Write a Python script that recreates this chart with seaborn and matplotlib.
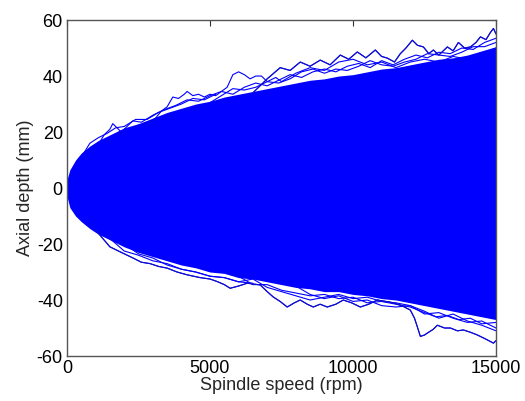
import matplotlib
matplotlib.use("Agg")
import matplotlib.pyplot as plt
import pandas as pd
import seaborn as sns

# Axis annotation
x_label = "Spindle speed (rpm)"
y_label = "Axial depth (mm)"
x_ticks = [0, 5000, 10000, 15000]
y_ticks = [-60, -40, -20, 0, 20, 40, 60]

# Dense band covered by the bulk of the simulated paths
core_speed = [0, 100, 300, 500, 800, 1100, 1500, 2000, 2500, 3000, 3500, 4000,
              4500, 5000, 5500, 6000, 6500, 7000, 7500, 8000, 8500, 9000, 9500,
              10000, 10500, 11000, 11500, 12000, 12500, 13000, 13500, 14000,
              14500, 15000]
core_upper = [3, 6.5, 10, 12.5, 15, 17, 19, 21.5, 23, 25, 27, 28.5, 30, 31,
              32.5, 33.5, 34.5, 35.5, 36.5, 37.5, 38.5, 39, 40, 40.5, 41.5, 42.5,
              43, 44, 45, 46, 46.5, 47.5, 49, 50.5]
core_lower = [-3, -7, -10, -12, -14.5, -16.5, -18.5, -21, -23, -24.5, -26, -27.5,
              -28.5, -30, -30.5, -32, -32.5, -33.5, -34.5, -35.5, -36, -37, -37,
              -38, -38.5, -39.5, -40, -41, -42, -43, -44, -45, -46, -47]

# Individual stability-boundary paths that stray outside the dense band
path_u1_speed = [1000, 1300, 1500, 1600, 1750, 1900, 2200, 2500, 2800, 3100, 3300,
                 3500, 3700, 3900, 4100, 4200, 4400, 4600, 4800, 5000, 5200, 5400,
                 5600, 5800, 6000, 6200, 6400, 6600, 6800, 7000, 7300, 7500, 8000,
                 8500, 9000, 9500, 10000, 10500, 11000, 11500, 12000, 12500, 13000,
                 13500, 14000, 14500, 15000]
path_u1_depth = [14, 19, 21, 23, 21.5, 20, 21, 22.5, 23, 25, 27.5, 29, 32.5, 32,
                 33.5, 34.5, 33, 33.5, 32.5, 33.5, 33, 34.5, 36, 40.5, 41.5, 40.5,
                 39, 40, 40, 38, 39.5, 38, 41, 43, 42, 45, 46, 44, 45, 43, 45, 46,
                 45, 47, 46, 48, 50]

path_u2_speed = [6500, 7000, 7455, 7800, 8155, 8500, 8855, 9200, 9555, 9850, 10150,
                 10450, 10780, 11000, 11200, 11450, 11655, 11850, 12075, 12250,
                 12460, 12650, 12810, 13000, 13300, 13500, 13685, 13900, 14105,
                 14300, 14455, 14650, 14800, 14910, 15000]
path_u2_depth = [34, 39, 43, 42, 45, 43.5, 45.7, 44, 47.5, 46, 48.6, 46.5, 49.3,
                 47, 46.4, 45, 48, 50, 52.8, 51, 50.4, 48, 49.3, 47.5, 50.4, 49,
                 52, 50, 50.4, 52, 54, 53, 55.5, 57, 55]

path_u3_speed = [2000, 2300, 2600, 3000, 3400, 3800, 4200, 4600, 5000, 5400, 5800,
                 6200, 6600, 7000, 7400, 7800, 8200, 8600, 9000, 9400, 9800, 10200,
                 10600, 11000, 11400, 11800, 12200, 12600, 13000, 13400, 13800,
                 14200, 14600, 15000]
path_u3_depth = [21, 24, 23.5, 26, 28, 29.5, 31.5, 31, 33, 34.5, 33.5, 36, 37.5,
                 36.5, 38.5, 40.5, 39.5, 41.5, 42.5, 41.5, 43.5, 44.5, 43, 45.5,
                 44, 46, 47.5, 46.5, 48.5, 48, 50, 49.5, 52, 53.5]

path_u4_speed = [5000, 5400, 5800, 6200, 6600, 7000, 7400, 7800, 8200, 8600, 9000,
                 9400, 9800, 10200, 10600, 11000, 11400, 11800, 12200, 12600, 13000,
                 13400, 13800, 14200, 14600, 15000]
path_u4_depth = [30.5, 33, 35.5, 35, 36, 38, 37.5, 39, 41.5, 42.5, 41, 42.5, 42,
                 43.5, 45.5, 44, 43.5, 45, 46, 48, 47.5, 47, 48.5, 50.5, 50.5, 52]

path_u5_speed = [500, 800, 1100, 1400, 1700, 2000, 2400, 2800, 3200, 3600, 4000,
                 4400, 4800, 5200]
path_u5_depth = [11, 16, 18, 19.5, 21.5, 22, 24.5, 24.5, 27, 28.5, 30, 32, 31.5,
                 33.5]

path_l1_speed = [1000, 1500, 1900, 2310, 2600, 2905, 3200, 3500, 3850, 4200, 4655,
                 5000, 5250, 5500, 5705, 6000, 6300, 6755, 7000, 7210, 7450, 7700,
                 7950, 8155, 8400, 8610, 8850, 9100, 9400, 9660, 9950, 10255, 10550,
                 10850, 11150, 11410, 11700, 12005, 12150, 12250, 12355, 12500,
                 12600, 12800, 12950, 13200, 13405, 13650, 13860, 14100, 14350,
                 14650, 14910, 15000]
path_l1_depth = [-15, -21, -23, -25, -26.5, -27, -28, -28.6, -30, -31, -32, -32.5,
                 -33.4, -34.5, -35.8, -35, -34, -34.6, -37, -38.9, -40.5, -42.5,
                 -41, -40, -41.5, -42.5, -41.5, -42.5, -41.5, -40, -41, -42.5,
                 -41.5, -40, -40.5, -41, -42, -43.6, -46.5, -49.6, -53, -52.5,
                 -51.8, -50.5, -49, -50, -50, -51, -50.7, -51.5, -52.5, -54, -55.4,
                 -54.5]

path_l2_speed = [2000, 2500, 3000, 3500, 4000, 4500, 5000, 5500, 6000, 6500, 7000,
                 7500, 8000, 8500, 9000, 9500, 10000, 10500, 11000, 11500, 12000,
                 12500, 13000, 13500, 14000, 14500, 15000]
path_l2_depth = [-20, -23.5, -25, -27.5, -29, -30, -31.5, -32, -33.5, -32.5, -35.5,
                 -37, -38.5, -40, -39, -38, -39.5, -39, -40.5, -41, -42, -44, -46.5,
                 -45, -47.5, -49, -51]

path_l3_speed = [6000, 6500, 7000, 7500, 8000, 8500, 9000, 9500, 10000, 10500,
                 11000, 11500, 12000, 12500, 12900, 13300, 13700, 14100, 14500,
                 15000]
path_l3_depth = [-31.5, -34.5, -34.5, -36.5, -37.5, -38.5, -38, -39.5, -39, -41,
                 -40.5, -41.5, -42.5, -44.5, -46, -45.5, -47, -46.5, -48.5, -48]

path_l4_speed = [1500, 2000, 2500, 3000, 3500, 4000, 4500, 5000, 5500, 6000, 6500]
path_l4_depth = [-18, -22.5, -24, -26, -27, -29, -30, -31.5, -32, -33.5, -34]

path_l5_speed = [8000, 8500, 9000, 9500, 10000, 10500, 11000, 11500, 12000, 12500,
                 13000, 13500, 14000, 14500, 15000]
path_l5_depth = [-35, -38, -39.5, -38.5, -40.5, -40, -42, -42.5, -42, -45,
                 -44.5, -46.5, -48, -47.5, -50]

paths = {
    "u1": (path_u1_speed, path_u1_depth),
    "u2": (path_u2_speed, path_u2_depth),
    "u3": (path_u3_speed, path_u3_depth),
    "u4": (path_u4_speed, path_u4_depth),
    "u5": (path_u5_speed, path_u5_depth),
    "l1": (path_l1_speed, path_l1_depth),
    "l2": (path_l2_speed, path_l2_depth),
    "l3": (path_l3_speed, path_l3_depth),
    "l4": (path_l4_speed, path_l4_depth),
    "l5": (path_l5_speed, path_l5_depth),
}
df = pd.concat(
    [pd.DataFrame({"speed": s, "depth": d, "path": name})
     for name, (s, d) in paths.items()],
    ignore_index=True,
)

sns.set_theme(style="white")
plt.rcParams["font.family"] = ["Liberation Sans", "DejaVu Sans"]

fig = plt.figure(figsize=(5.25, 4.01), dpi=100)
ax = fig.add_axes([0.1276, 0.1122, 0.8172, 0.8378])

ax.fill_between(core_speed, core_lower, core_upper, color="#0000ff", lw=0)
sns.lineplot(data=df, x="speed", y="depth", units="path", estimator=None,
             color="#0000ff", lw=0.8, ax=ax, legend=False)
# the outermost paths render a little darker at their thin edges
sns.lineplot(data=df[df["path"].isin(["u2", "l1"])], x="speed", y="depth",
             units="path", estimator=None, color="#1010c8", lw=0.8, ax=ax,
             legend=False)

ax.set_xlim(0, 15000)
ax.set_ylim(-60, 60)
ax.set_xticks(x_ticks)
ax.set_yticks(y_ticks)
ax.set_xticklabels([str(t) for t in x_ticks])
ax.set_yticklabels([str(t) for t in y_ticks])
ax.set_xlabel(x_label, fontsize=13, labelpad=0)
ax.set_ylabel(y_label, fontsize=13, labelpad=2)
ax.tick_params(axis="both", which="major", direction="in", length=4, width=0.8,
               labelsize=13, top=True, right=True, color="#333333",
               labelcolor="black")
ax.tick_params(axis="x", pad=3)
ax.tick_params(axis="y", pad=3)
for sp in ax.spines.values():
    sp.set_visible(True)
    sp.set_color("#555555")
    sp.set_linewidth(1.0)
ax.set_facecolor("white")
fig.patch.set_facecolor("white")

fig.savefig("out.png", dpi=100, facecolor="white")
